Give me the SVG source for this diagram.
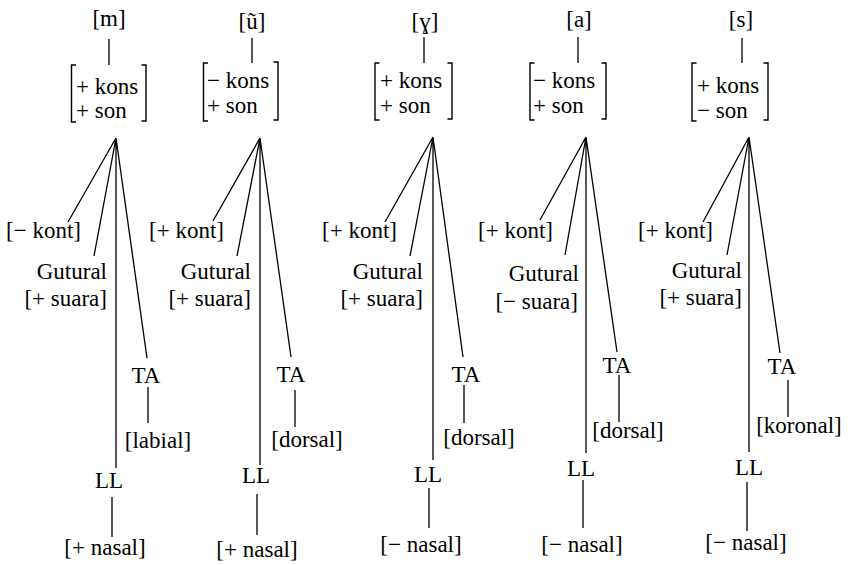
<svg xmlns="http://www.w3.org/2000/svg" width="848" height="565" viewBox="0 0 848 565">
<style>
text{font-family:'Liberation Serif','Times New Roman',serif;font-size:23px;fill:#000}
.m{text-anchor:middle}
.e{text-anchor:end}
.ln{stroke:#000;stroke-width:1.3;fill:none}
.br{stroke:#000;stroke-width:1.4;fill:none}
</style>
<rect width="848" height="565" fill="#fff"/>
<g id="connectors" class="ln">
<path d="M109 39V65M116 138L68 222M116 138L94 256M116 138V468M116 138L147 358M148 387V423M112 497V537"/>
<path d="M252 38V63M260 138L213 221M260 138L237 256M260 138V465M260 138L291 357M295 390V427M257 494V535"/>
<path d="M424 37V63M433 137L385 222M433 137L410 256M433 137V460M433 137L463 357M464 385V423M429 488V528"/>
<path d="M578 37V63M586 137L540 220M586 137L565 255M586 137V453M586 137L617 352M619 375V422M583 480V528"/>
<path d="M742 38V63M749 137L703 222M749 137L727 255M749 137V452M749 137L780 353M788 380V417M747 482V531"/>
</g>
<g id="col1">
<g id="seg1"><text class="m" x="109" y="26">[m]</text></g>
<g id="feat1"><path class="br" d="M76 65H71.5V122H76M141.5 65H146V121H141.5"/><text x="76" y="94">+ kons</text><text x="76" y="118">+ son</text></g>
<g id="kont1"><text x="6" y="238">[− kont]</text></g>
<g id="gut1"><text class="e" x="107" y="279">Gutural</text><text class="e" x="107" y="306">[+ suara]</text></g>
<g id="ta1"><text class="m" x="146" y="383">TA</text></g>
<g id="place1"><text class="m" x="158" y="448">[labial]</text></g>
<g id="ll1"><text class="m" x="109" y="488">LL</text></g>
<g id="nas1"><text class="m" x="105" y="555">[+ nasal]</text></g>
</g>
<g id="col2">
<g id="seg2"><text class="m" x="252" y="29">[ũ]</text></g>
<g id="feat2"><path class="br" d="M208 63H203.5V121H208M273.5 62H278V120H273.5"/><text x="207" y="88">− kons</text><text x="207" y="113">+ son</text></g>
<g id="kont2"><text x="149" y="238">[+ kont]</text></g>
<g id="gut2"><text class="e" x="251" y="279">Gutural</text><text class="e" x="251" y="306">[+ suara]</text></g>
<g id="ta2"><text class="m" x="291" y="382">TA</text></g>
<g id="place2"><text class="m" x="307" y="447">[dorsal]</text></g>
<g id="ll2"><text class="m" x="256" y="483">LL</text></g>
<g id="nas2"><text class="m" x="257" y="557">[+ nasal]</text></g>
</g>
<g id="col3">
<g id="seg3"><text class="m" x="425" y="29">[ɣ]</text></g>
<g id="feat3"><path class="br" d="M379.5 63H375V120H379.5M447.5 63H452V119H447.5"/><text x="380" y="88">+ kons</text><text x="380" y="113">+ son</text></g>
<g id="kont3"><text x="322" y="238">[+ kont]</text></g>
<g id="gut3"><text class="e" x="423" y="279">Gutural</text><text class="e" x="423" y="306">[+ suara]</text></g>
<g id="ta3"><text class="m" x="466" y="382">TA</text></g>
<g id="place3"><text class="m" x="479" y="445">[dorsal]</text></g>
<g id="ll3"><text class="m" x="428" y="482">LL</text></g>
<g id="nas3"><text class="m" x="421" y="552">[− nasal]</text></g>
</g>
<g id="col4">
<g id="seg4"><text class="m" x="579" y="27">[a]</text></g>
<g id="feat4"><path class="br" d="M534.5 63H530V120H534.5M601.5 63H606V119H601.5"/><text x="533" y="88">− kons</text><text x="533" y="113">+ son</text></g>
<g id="kont4"><text x="478" y="238">[+ kont]</text></g>
<g id="gut4"><text class="e" x="579" y="281">Gutural</text><text class="e" x="578" y="309">[− suara]</text></g>
<g id="ta4"><text class="m" x="617" y="373">TA</text></g>
<g id="place4"><text class="m" x="628" y="438">[dorsal]</text></g>
<g id="ll4"><text class="m" x="581" y="476">LL</text></g>
<g id="nas4"><text class="m" x="582" y="552">[− nasal]</text></g>
</g>
<g id="col5">
<g id="seg5"><text class="m" x="741" y="27">[s]</text></g>
<g id="feat5"><path class="br" d="M696.5 63H692V121H696.5M763.5 63H768V120H763.5"/><text x="697" y="93">+ kons</text><text x="697" y="118">− son</text></g>
<g id="kont5"><text x="638" y="238">[+ kont]</text></g>
<g id="gut5"><text class="e" x="742" y="278">Gutural</text><text class="e" x="742" y="305">[+ suara]</text></g>
<g id="ta5"><text class="m" x="782" y="374">TA</text></g>
<g id="place5"><text class="m" x="799" y="433">[koronal]</text></g>
<g id="ll5"><text class="m" x="749" y="475">LL</text></g>
<g id="nas5"><text class="m" x="746" y="550">[− nasal]</text></g>
</g>
</svg>
